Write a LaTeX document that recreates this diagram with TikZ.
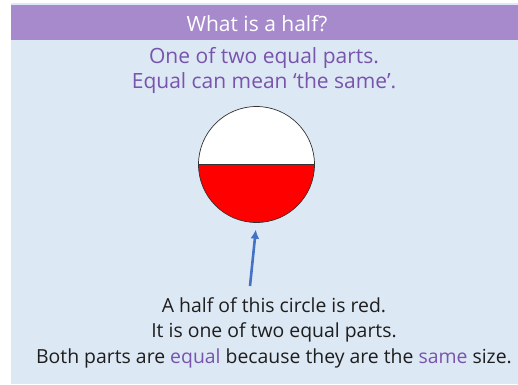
\documentclass[tikz,border=0pt]{standalone}
\usepackage{fontspec}
\setmainfont{Open Sans}
\usetikzlibrary{calc,arrows.meta}
\definecolor{panel}{RGB}{221,232,245}
\definecolor{barpurple}{RGB}{166,138,204}
\definecolor{txtpurple}{RGB}{120,84,172}
\definecolor{txtdark}{RGB}{30,30,30}
\definecolor{arrowblue}{RGB}{68,114,196}
\definecolor{halfred}{RGB}{255,0,0}
\tikzset{
  purpletext/.style={text=txtpurple,font=\fontsize{21}{21}\selectfont,inner sep=0pt,anchor=base},
  darktext/.style={text=txtdark,font=\fontsize{19.4}{19.4}\selectfont,inner sep=0pt,anchor=base},
  titletext/.style={text=white,font=\fontsize{21}{21}\selectfont,inner sep=0pt,anchor=base}
}
\begin{document}
\begin{tikzpicture}[x=1pt,y=-1pt]
\useasboundingbox (0,0) rectangle (518,384);
\fill[white] (0,0) rectangle (518,384);
\fill[panel] (11,3) rectangle (518,384);
\fill[barpurple] (11,5) rectangle (518,40);
\node[titletext] (title) at (257,31) {What is a half?};
\node[purpletext] (l1) at (264,63) {One of two equal parts.};
\node[purpletext] (l2) at (264,88) {Equal can mean ‘the same’.};
% circle
\coordinate (c) at (256.5,164.5);
\fill[white] (c) circle (58);
\fill[halfred] ($(c)+(-58,0)$) arc[start angle=180,end angle=0,radius=58] -- cycle;
\draw[black!80,line width=0.7pt] (c) circle (58);
\draw[black!80,line width=0.7pt] ($(c)+(-58,0)$) -- ($(c)+(58,0)$);
\node[inner sep=0pt,minimum size=116pt,circle] (circ) at (c) {};
\coordinate (tail) at (250,286);
\draw[arrowblue,line width=2.6pt,shorten >=7pt,-{Latex[length=9pt,width=9pt]}] (tail) -- (circ.south);
\node[darktext] (b1) at (274,312) {A half of this circle is red.};
\node[darktext] (b2) at (274,337) {It is one of two equal parts.};
\node[darktext] (b3) at (274,363) {Both parts are \textcolor{txtpurple}{equal} because they are the \textcolor{txtpurple}{same} size.};
\end{tikzpicture}
\end{document}
